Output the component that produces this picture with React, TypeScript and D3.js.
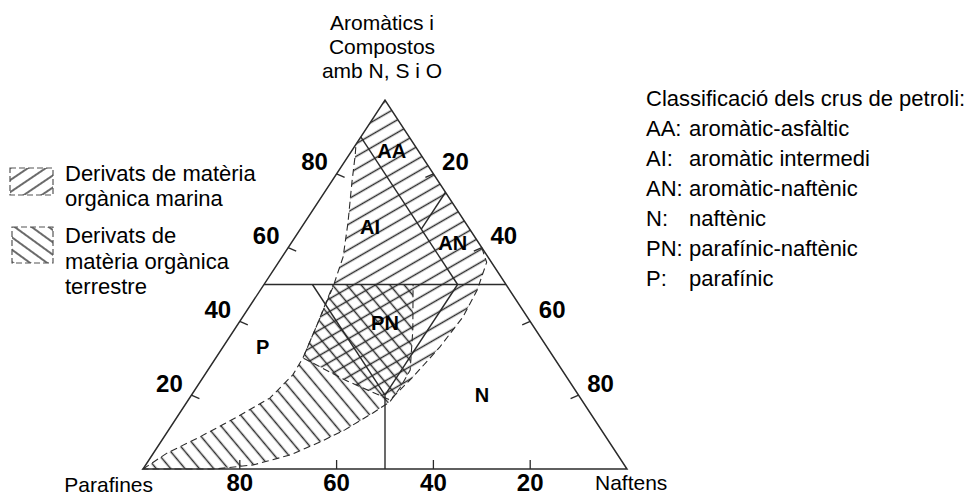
import React from "react";
import * as d3 from "d3";

// Ternary crude-oil classification diagram (aromatics+NSO / paraffins / naphthenes)

const tickValues = [20, 40, 60, 80];
const apexTitle = ["Aromàtics i", "Compostos", "amb N, S i O"];
const leftVertexLabel = "Parafines";
const rightVertexLabel = "Naftens";

const legendTitle = "Classificació dels crus de petroli:";
const classCodes = ["AA:", "AI:", "AN:", "N:", "PN:", "P:"];
const classNames = [
  "aromàtic-asfàltic",
  "aromàtic intermedi",
  "aromàtic-naftènic",
  "naftènic",
  "parafínic-naftènic",
  "parafínic",
];
const marineLegend = ["Derivats de matèria", "orgànica marina"];
const terrestrialLegend = ["Derivats de", "matèria orgànica", "terrestre"];

// Points are [aromatics %, naphthenes %]; paraffins = 100 - both.
const classLines: [number, number][][] = [
  [[50, 0], [50, 50]], // aromatics = 50 %
  [[50, 10], [20, 40]], // paraffins = 40 %
  [[50, 40], [20, 40]], // naphthenes = 40 %
  [[20, 40], [0, 50]], // paraffins = naphthenes
  [[50, 40], [90, 0]], // paraffins = 10 %
  [[65, 25], [75, 25]], // naphthenes = 25 %
];

const regionNames = ["AA", "AI", "AN", "PN", "N", "P"];
const regionAromatics = [86.2, 65.6, 61.2, 39.6, 20.1, 33.1];
const regionNaphthenes = [8.3, 14.1, 33.4, 30.2, 60, 8.2];

// Field of oils derived from marine organic matter
const marineField: [number, number][] = [
  [88, 0], [100, 0], [60, 40], [56, 43], [48.5, 44.8], [41.2, 45.5],
  [33.1, 44.8], [24.9, 43.3], [18.7, 41.7], [24.1, 29.7], [30.1, 18],
  [39.8, 16.3], [49.3, 14.6], [57.5, 12.6], [66.7, 9], [77.5, 4.4], [85.1, 1.3],
];
// Field of oils derived from terrestrial organic matter
const terrestrialField: [number, number][] = [
  [0, 0], [4.3, 2.8], [8.7, 7.4], [14.1, 12.4], [19.2, 16.6], [25.5, 18.2],
  [30.1, 18], [39.8, 16.3], [50, 14.3], [50, 30.8], [37.7, 36.9], [26.8, 41.8],
  [22, 42.1], [18.2, 41.9], [15.2, 39.9], [10.6, 36.4], [7.3, 32.9], [3.8, 28.5],
  [1.1, 22.2], [0, 14.9],
];

const FONT = "Arial, 'Liberation Sans', sans-serif";
const INK = "#2b2b2b";

export default function App() {
  const x = d3.scaleLinear().domain([0, 100]).range([143, 627]);
  const y = d3.scaleLinear().domain([0, 100]).range([469, 100]);
  const proj = (d: [number, number]): [number, number] => [x(d[1] + d[0] / 2), y(d[0])];
  const path = d3
    .line<[number, number]>()
    .x((d) => proj(d)[0])
    .y((d) => proj(d)[1]);
  const closed = d3
    .line<[number, number]>()
    .x((d) => proj(d)[0])
    .y((d) => proj(d)[1])
    .curve(d3.curveLinearClosed);

  const triangle: [number, number][] = [[0, 0], [0, 100], [100, 0]];
  const marineOutline = marineField.slice(2).concat([marineField[0]]);

  return (
    <svg
      width={972}
      height={497}
      style={{ position: "absolute", left: 0, top: 0, background: "#fff" }}
      fontFamily={FONT}
    >
      <defs>
        <pattern id="marineHatch" patternUnits="userSpaceOnUse" width={11} height={11} patternTransform="rotate(-30)">
          <line x1={0} y1={5.5} x2={11} y2={5.5} stroke={INK} strokeWidth={1.5} />
        </pattern>
        <pattern id="terrHatch" patternUnits="userSpaceOnUse" width={11} height={11} patternTransform="rotate(50)">
          <line x1={0} y1={5.5} x2={11} y2={5.5} stroke={INK} strokeWidth={1.5} />
        </pattern>
        <pattern id="terrSwatch" patternUnits="userSpaceOnUse" width={10} height={10} patternTransform="rotate(36)">
          <line x1={0} y1={5} x2={10} y2={5} stroke={INK} strokeWidth={1.4} />
        </pattern>
        <pattern id="marineSwatch" patternUnits="userSpaceOnUse" width={10} height={10} patternTransform="rotate(-34)">
          <line x1={0} y1={5} x2={10} y2={5} stroke={INK} strokeWidth={1.4} />
        </pattern>
      </defs>

      {/* hatched fields */}
      <path d={closed(terrestrialField) ?? ""} fill="url(#terrHatch)" />
      <path d={closed(marineField) ?? ""} fill="url(#marineHatch)" />
      <path d={closed(terrestrialField) ?? ""} fill="none" stroke={INK} strokeWidth={1.1} strokeDasharray="7 4" />
      <path d={path(marineOutline) ?? ""} fill="none" stroke={INK} strokeWidth={1.1} strokeDasharray="7 4" />

      {/* triangle and class boundaries */}
      <path d={closed(triangle) ?? ""} fill="none" stroke={INK} strokeWidth={1.5} />
      {classLines.map((seg, i) => (
        <path key={i} d={path(seg) ?? ""} fill="none" stroke={INK} strokeWidth={1.4} />
      ))}

      {/* ticks and tick labels */}
      {tickValues.map((v) => {
        const [lx, ly] = proj([v, 0]);
        const [rx, ry] = proj([100 - v, v]);
        const [bx, by] = proj([0, 100 - v]);
        return (
          <g key={v} fontWeight="bold" fontSize={24} fill="#000" textAnchor="middle">
            <line x1={lx} y1={ly} x2={lx + 8} y2={ly + 3.5} stroke={INK} strokeWidth={1.3} />
            <line x1={rx} y1={ry} x2={rx - 8} y2={ry + 3.5} stroke={INK} strokeWidth={1.3} />
            <line x1={bx} y1={by} x2={bx} y2={by - 9} stroke={INK} strokeWidth={1.3} />
            <text x={lx - 22} y={ly - 12 + 8.6}>{v}</text>
            <text x={rx + 22} y={ry - 12 + 8.6}>{v}</text>
            <text x={bx} y={491}>{v}</text>
          </g>
        );
      })}

      {/* region labels */}
      {regionNames.map((name, i) => {
        const [cx, cy] = proj([regionAromatics[i], regionNaphthenes[i]]);
        return (
          <text key={name} x={cx} y={cy + 7} textAnchor="middle" fontWeight="bold" fontSize={20} fill="#000">
            {name}
          </text>
        );
      })}

      {/* vertex titles */}
      <g fontSize={21} fill="#000" textAnchor="middle">
        {apexTitle.map((t, i) => (
          <text key={t} x={382} y={30 + i * 24}>{t}</text>
        ))}
      </g>
      <text x={153} y={492} fontSize={21} textAnchor="end">{leftVertexLabel}</text>
      <text x={595} y={490} fontSize={21}>{rightVertexLabel}</text>

      {/* field legend */}
      <rect x={10} y={168} width={43} height={27} fill="url(#marineSwatch)" stroke="#555" strokeWidth={1.2} strokeDasharray="6 3" />
      <rect x={12} y={227} width={41} height={36} fill="url(#terrSwatch)" stroke="#555" strokeWidth={1.2} strokeDasharray="6 3" />
      <g fontSize={22} fill="#000">
        {marineLegend.map((t, i) => (
          <text key={t} x={65} y={181 + i * 25}>{t}</text>
        ))}
        {terrestrialLegend.map((t, i) => (
          <text key={t} x={65} y={243 + i * 25.5}>{t}</text>
        ))}
      </g>

      {/* class legend */}
      <g fontSize={22} fill="#000">
        <text x={646} y={106}>{legendTitle}</text>
        {classCodes.map((c, i) => (
          <g key={c}>
            <text x={646} y={136 + i * 30}>{c}</text>
            <text x={689} y={136 + i * 30}>{classNames[i]}</text>
          </g>
        ))}
      </g>
    </svg>
  );
}
